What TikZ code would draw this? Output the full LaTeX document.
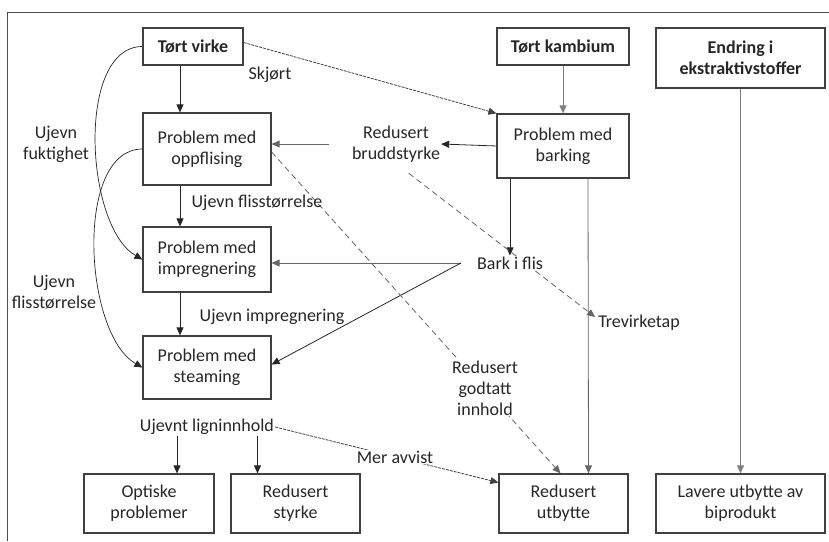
\documentclass[tikz,border=0pt]{standalone}
\usepackage{fontspec}
\setmainfont{Carlito}
\usetikzlibrary{arrows.meta,backgrounds}

\begin{document}
\begin{tikzpicture}[x=1pt,y=-1pt,
    box/.style={draw=black!75,line width=1.2pt,align=center,inner sep=2pt,
      font=\fontsize{18}{21}\selectfont,text=black!85},
    lbl/.style={align=center,inner sep=1pt,font=\fontsize{18}{21}\selectfont,text=black!85},
    lblw/.style={lbl,fill=white},
    arr/.style={-{Triangle[length=8pt,width=7pt]},line width=0.8pt,draw=black!85},
    arrgray/.style={arr,draw=black!50},
    dasharr/.style={arr,dashed,dash pattern=on 6pt off 4pt,draw=black!60},
    finearr/.style={arr,dash pattern=on 3pt off 1pt,draw=black!75}]
  \useasboundingbox (0,0) rectangle (829,541);

  % Frame
  \draw[black!70,line width=1pt] (7,541) -- (7,12) -- (829,12);

  % Boxes
  \node[box,minimum width=100pt,minimum height=37pt,font=\fontsize{18}{21}\selectfont\bfseries] (virke) at (193,46.5) {Tørt virke};
  \node[box,minimum width=128pt,minimum height=72pt] (oppflising) at (207,149) {Problem med\\oppflising};
  \node[box,minimum width=128pt,minimum height=65pt] (impregnering) at (207,259.5) {Problem med\\impregnering};
  \node[box,minimum width=128pt,minimum height=63pt] (steaming) at (207,367.5) {Problem med\\steaming};
  \node[box,minimum width=130pt,minimum height=59pt] (optiske) at (149,503.5) {Optiske\\problemer};
  \node[box,minimum width=129pt,minimum height=59pt] (styrke) at (295.5,503.5) {Redusert\\styrke};
  \node[box,minimum width=132pt,minimum height=37pt,font=\fontsize{18}{21}\selectfont\bfseries] (kambium) at (563,46.5) {Tørt kambium};
  \node[box,minimum width=132pt,minimum height=64pt] (barking) at (563,146) {Problem med\\barking};
  \node[box,minimum width=169pt,minimum height=60pt,font=\fontsize{18}{21}\selectfont\bfseries] (endring) at (740.5,58) {Endring i\\ekstraktivstoffer};
  \node[box,minimum width=129pt,minimum height=59pt] (utbytte) at (563.5,503.5) {Redusert\\utbytte};
  \node[box,minimum width=169pt,minimum height=59pt] (biprodukt) at (740.5,503.5) {Lavere utbytte av\\biprodukt};

  % Labels
  \node[lbl] (skjort) at (270,75) {Skjørt};
  \node[lbl] (fukt) at (56,144) {Ujevn\\fuktighet};
  \node[lbl] (bruddstyrke) at (396,144) {Redusert\\bruddstyrke};
  \node[lbl] (flisA) at (257,203) {Ujevn flisstørrelse};
  \node[lblw] (bark) at (510,263) {Bark i flis};
  \node[lbl] (flisB) at (54,292) {Ujevn\\flisstørrelse};
  \node[lbl] (ujimp) at (272,317) {Ujevn impregnering};
  \node[lbl] (trevirketap) at (639,323) {Trevirketap};
  \node[lblw] (godtatt) at (485,388) {Redusert\\godtatt\\innhold};
  \node[lbl] (lignin) at (207,427) {Ujevnt ligninnhold};
  \node[lblw] (meravvist) at (395,457) {Mer avvist};
  \coordinate (barkfork) at ([xshift=-15pt]bark.west);

  \begin{pgfonlayer}{background}
    % Left column
    \draw[arr] ([xshift=-27pt]oppflising.north |- virke.south) -- ([xshift=-27pt]oppflising.north);
    \draw[arr] ([xshift=-27pt]oppflising.south) -- ([xshift=-27pt]impregnering.north);
    \draw[arr] ([xshift=-27pt]impregnering.south) -- ([xshift=-27pt]steaming.north);
    \draw[arr,line width=0.7pt] (virke.west) to[out=180,in=150,looseness=0.8] (impregnering.west);
    \draw[arr,line width=0.7pt] (oppflising.west) to[out=180,in=150,looseness=0.8] (steaming.west);

    % Barking
    \draw[finearr] ([yshift=4pt]virke.east) -- (barking.north west);
    \draw[arrgray] (kambium.south) -- (barking.north);
    \draw[arr] (barking.west) -- (bruddstyrke.east);
    \draw[arr,draw=black!60,shorten <=22pt] (bruddstyrke.west) -- (bruddstyrke.west -| oppflising.east);
    \draw[arr] (bark.north |- barking.south) -- (bark.north);
    \draw[arrgray,draw=black!60] ([xshift=25pt]barking.south) -- ([xshift=25pt]utbytte.north);

    % Bark i flis
    \draw[arr,draw=black!60] (barkfork) -- (barkfork -| impregnering.east);
    \draw[arr] (barkfork) -- ([yshift=3pt]steaming.east);

    % Dashed
    \draw[dasharr] ([yshift=-3pt]oppflising.east) -- ([xshift=-3pt]utbytte.north);
    \draw[dasharr,shorten <=16pt] (bruddstyrke.south) -- ([xshift=-2pt,yshift=6pt]trevirketap.west);

    % Lignin
    \draw[finearr] (lignin.east) -- ([yshift=21pt]utbytte.west);
    \draw[arr] ([xshift=28pt]optiske.north |- lignin.south) -- ([xshift=28pt]optiske.north);
    \draw[arr] ([xshift=-38pt]styrke.north |- lignin.south) -- ([xshift=-38pt]styrke.north);

    % Ekstraktiv
    \draw[arrgray] (endring.south) -- (biprodukt.north);
  \end{pgfonlayer}
\end{tikzpicture}
\end{document}
